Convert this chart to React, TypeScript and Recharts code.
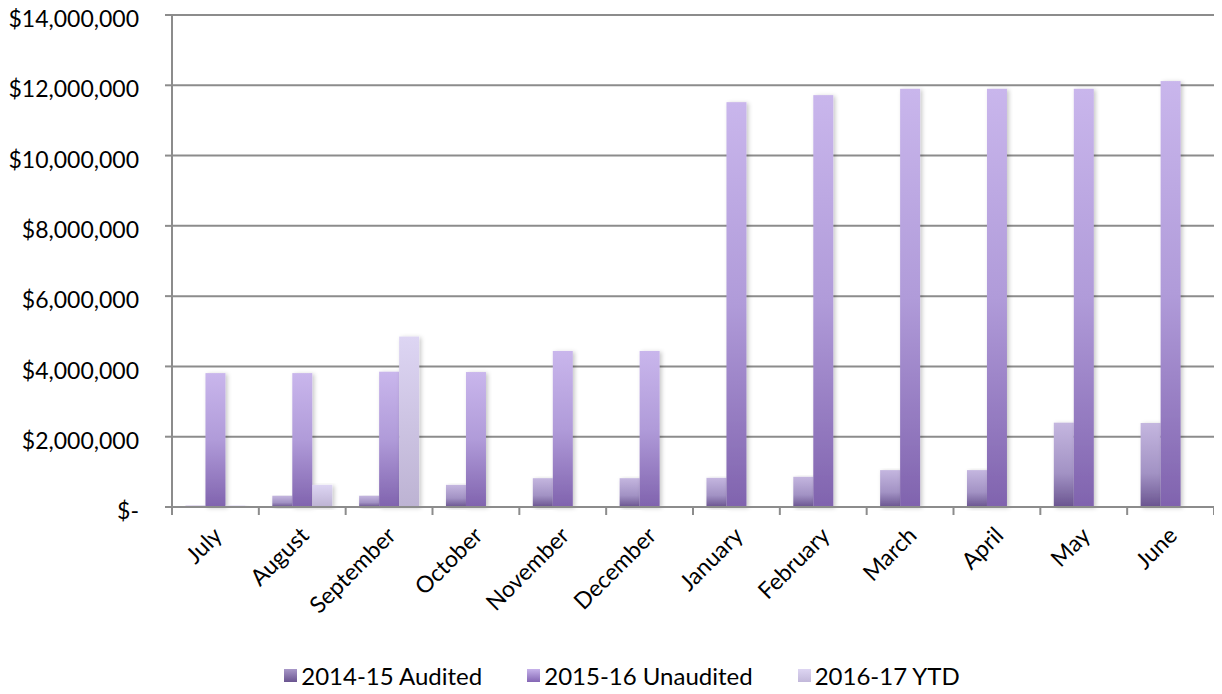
import React from 'react';
import { BarChart, Bar, XAxis, YAxis, CartesianGrid, Legend } from 'recharts';

const categories = ['July', 'August', 'September', 'October', 'November', 'December', 'January', 'February', 'March', 'April', 'May', 'June'];
const audited = [40000, 320000, 320000, 630000, 820000, 820000, 830000, 860000, 1050000, 1050000, 2400000, 2390000];
const unaudited = [3810000, 3810000, 3850000, 3840000, 4440000, 4440000, 11520000, 11720000, 11900000, 11900000, 11900000, 12120000];
const ytd = [40000, 630000, 4850000, 0, 0, 0, 0, 0, 0, 0, 0, 0];
const yTicks = [0, 2000000, 4000000, 6000000, 8000000, 10000000, 12000000, 14000000];
const seriesNames = ['2014-15 Audited', '2015-16 Unaudited', '2016-17 YTD'];

const data = categories.map((c, i) => ({ name: c, a: audited[i], u: unaudited[i], y: ytd[i] }));

const W = 1214;
const H = 694;
const MARGIN = { top: 15, right: 8, left: 0, bottom: 0 };
const YW = 164;
const BW = (W - MARGIN.left - MARGIN.right - YW) / categories.length;
const FONT = 'Lato, "Open Sans", sans-serif';
const GRID = '#8c8c8c';
const AXIS_FS = 23;

const fmt = (v: number) => (v === 0 ? '$-' : '$' + v.toLocaleString('en-US'));

const XTick = (props: any) => {
  const { x, y, payload, index } = props;
  const last = index === categories.length - 1;
  return (
    <g>
      <line x1={x - BW / 2} x2={x - BW / 2} y1={y} y2={y + 8} stroke={GRID} strokeWidth={2} />
      {last && <line x1={x + BW / 2} x2={x + BW / 2} y1={y} y2={y + 8} stroke={GRID} strokeWidth={2} />}
      <text
        x={x + 8}
        y={y + 30}
        transform={`rotate(-45, ${x + 8}, ${y + 30})`}
        textAnchor="end"
        fontSize={AXIS_FS}
        fontFamily={FONT}
        fill="#000"
      >
        {payload.value}
      </text>
    </g>
  );
};

const YTick = (props: any) => {
  const { x, y, payload } = props;
  return (
    <text x={x} y={y + 4} dy="0.355em" textAnchor="end" fontSize={AXIS_FS} fontFamily={FONT} fill="#000">
      {fmt(payload.value)}
    </text>
  );
};

const gradId = ['gA', 'gU', 'gY'];

const ShadowRect = (fillId: string) => (p: any) => {
  const { x, y, width, height } = p;
  if (!height || height <= 0) return <g />;
  return <rect x={x} y={y} width={width} height={height} fill={`url(#${fillId})`} filter="url(#barShadow)" />;
};

const Swatch = ({ top, bottom }: { top: string; bottom: string }) => (
  <svg width={13} height={13} style={{ display: 'block' }}>
    <defs>
      <linearGradient id={`sw${top}`} x1="0" y1="0" x2="0" y2="1">
        <stop offset="0" stopColor={top} />
        <stop offset="1" stopColor={bottom} />
      </linearGradient>
    </defs>
    <rect x={0} y={0} width={13} height={13} fill={`url(#sw${top})`} />
  </svg>
);

const swatchColors = [
  { top: '#a898c8', bottom: '#6a5490' },
  { top: '#c6b2ea', bottom: '#8466b4' },
  { top: '#ddd5f2', bottom: '#c2b8da' },
];

const LegendContent = () => (
  <div style={{ display: 'flex', justifyContent: 'center', alignItems: 'center', height: 37, paddingLeft: 22, boxSizing: 'border-box', fontFamily: FONT, fontSize: 24, color: '#000' }}>
    {seriesNames.map((n, i) => (
      <div key={n} style={{ display: 'flex', alignItems: 'center', marginRight: i < 2 ? 45 : 0 }}>
        <Swatch top={swatchColors[i].top} bottom={swatchColors[i].bottom} />
        <span style={{ marginLeft: 4 }}>{n}</span>
      </div>
    ))}
  </div>
);

export default function App() {
  return (
    <div style={{ marginTop: -8 }}>
      <BarChart width={W} height={H} data={data} margin={MARGIN} barCategoryGap="15.5%" barGap={0}>
        <defs>
          <linearGradient id="gA" x1="0" y1="0" x2="0" y2="1">
            <stop offset="0" stopColor="#c4b6df" />
            <stop offset="0.6" stopColor="#a292c4" />
            <stop offset="1" stopColor="#6a5490" />
          </linearGradient>
          <linearGradient id="gU" x1="0" y1="0" x2="0" y2="1">
            <stop offset="0" stopColor="#c9b6ec" />
            <stop offset="0.5" stopColor="#b09bd9" />
            <stop offset="1" stopColor="#8063ae" />
          </linearGradient>
          <linearGradient id="gY" x1="0" y1="0" x2="0" y2="1">
            <stop offset="0" stopColor="#ddd5f3" />
            <stop offset="1" stopColor="#bdb3d3" />
          </linearGradient>
          <filter id="barShadow" x="-30%" y="-5%" width="160%" height="115%">
            <feDropShadow dx="2" dy="1" stdDeviation="2" floodColor="#000" floodOpacity="0.22" />
          </filter>
        </defs>
        <CartesianGrid vertical={false} stroke={GRID} strokeWidth={2} />
        <XAxis
          dataKey="name"
          height={150}
          axisLine={{ stroke: GRID, strokeWidth: 2 }}
          tickLine={false}
          tickSize={0}
          tickMargin={0}
          interval={0}
          tick={<XTick />}
        />
        <YAxis
          width={YW}
          domain={[0, 14000000]}
          ticks={yTicks}
          axisLine={{ stroke: GRID, strokeWidth: 2 }}
          tickLine={{ stroke: GRID, strokeWidth: 2 }}
          tickSize={7}
          tickMargin={26}
          tick={<YTick />}
        />
        <Legend verticalAlign="bottom" content={<LegendContent />} />
        <Bar dataKey="a" name={seriesNames[0]} fill="url(#gA)" shape={ShadowRect(gradId[0])} isAnimationActive={false} />
        <Bar dataKey="u" name={seriesNames[1]} fill="url(#gU)" shape={ShadowRect(gradId[1])} isAnimationActive={false} />
        <Bar dataKey="y" name={seriesNames[2]} fill="url(#gY)" shape={ShadowRect(gradId[2])} isAnimationActive={false} />
      </BarChart>
    </div>
  );
}
